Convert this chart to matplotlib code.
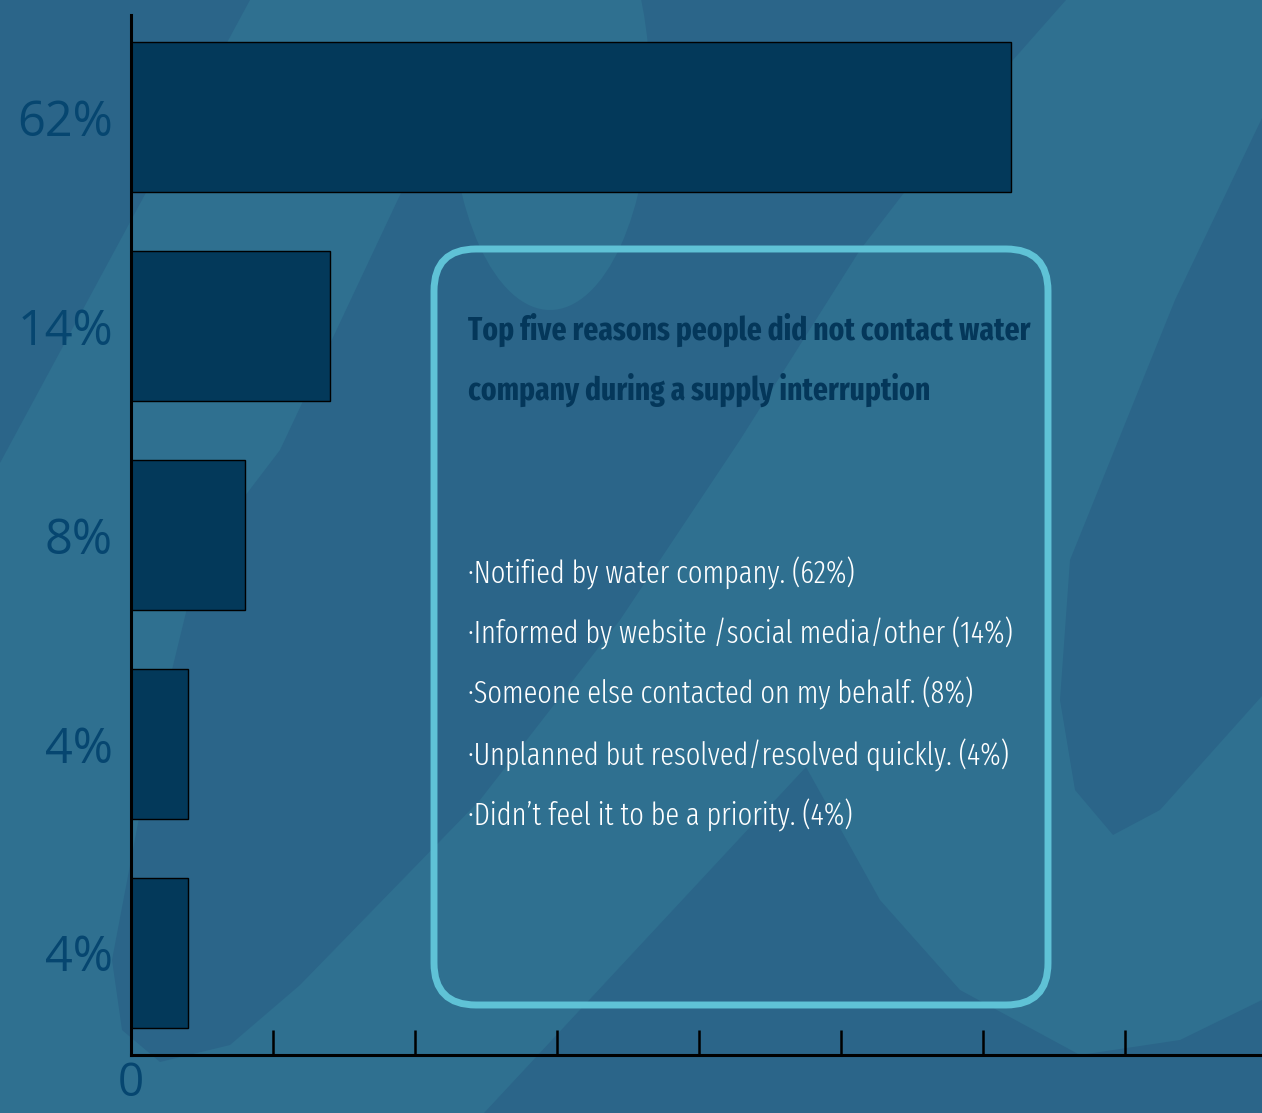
import matplotlib
matplotlib.use("Agg")
import matplotlib.pyplot as plt
from matplotlib import font_manager as fm
from matplotlib.patches import Polygon, FancyBboxPatch, Ellipse

# Data
values = [62, 14, 8, 4, 4]
bar_labels = [f"{v}%" for v in values]
title_lines = ["Top five reasons people did not contact water",
               "company during a supply interruption"]
reasons = ["Notified by water company.",
           "Informed by website /social media/other",
           "Someone else contacted on my behalf.",
           "Unplanned but resolved/resolved quickly.",
           "Didn\u2019t feel it to be a priority."]
x_ticks = [0, 10, 20, 30, 40, 50, 60, 70]

# Colours
BG_DARK = "#2b6589"
BG_LIGHT = "#2f7090"
BAR = "#03395a"
LABEL = "#064670"
BOX_EDGE = "#5fc2d6"
TITLE = "#04375a"

W, H = 1262, 1113


def pick_condensed(target_weight):
    """Find the narrowest installed sans font, closest to the given weight."""
    best, best_score = None, None
    for e in fm.fontManager.ttflist:
        if e.style != "normal":
            continue
        label = (e.name + " " + e.fname).lower()
        if e.stretch == "normal" and "condensed" not in label and "narrow" not in label:
            continue
        if "mono" in label or "serif" in label and "sans" not in label:
            continue
        w = e.weight
        if isinstance(w, str):
            w = fm.weight_dict.get(w, 400)
        score = abs(w - target_weight)
        if "extracondensed" in label.replace(" ", "") or "ultracondensed" in label.replace(" ", ""):
            score -= 1000
        elif "semicondensed" in label.replace(" ", ""):
            score += 500
        if best_score is None or score < best_score:
            best, best_score = e, score
    if best is None:
        return fm.FontProperties(family="Liberation Sans",
                                 weight="bold" if target_weight >= 600 else "normal")
    return fm.FontProperties(fname=best.fname)


title_font = pick_condensed(700)
body_font = pick_condensed(300)

fig = plt.figure(figsize=(W / 100, H / 100), dpi=100, facecolor=BG_DARK)

# Background layer in pixel coordinates
bg = fig.add_axes([0, 0, 1, 1], zorder=0)
bg.set_xlim(0, W)
bg.set_ylim(H, 0)
bg.axis("off")
bg.add_patch(Polygon([(0, 0), (W, 0), (W, H), (0, H)], closed=True,
                     facecolor=BG_LIGHT, edgecolor="none"))
dark_shapes = [
    [(0, 0), (250, 0), (0, 463)],
    [(505, 0), (1066, 0), (960, 120), (860, 250), (740, 440), (620, 620),
     (480, 800), (300, 985), (230, 1045), (160, 1062), (122, 1030),
     (112, 960), (150, 760), (200, 555), (280, 450), (400, 195)],
    [(1262, 118), (1175, 300), (1070, 560), (1060, 700), (1075, 790),
     (1113, 835), (1160, 810), (1262, 696)],
    [(484, 1113), (806, 767), (880, 900), (960, 990), (1080, 1055),
     (1180, 1040), (1262, 1000), (1262, 1113)],
]
for pts in dark_shapes:
    bg.add_patch(Polygon(pts, closed=True, facecolor=BG_DARK, edgecolor="none"))
bg.add_patch(Ellipse((550, 90), 200, 440, facecolor=BG_LIGHT, edgecolor="none"))

# Text box
bg.add_patch(FancyBboxPatch((434, 249), 614, 756,
                            boxstyle="round,pad=0,rounding_size=42",
                            facecolor="none", edgecolor=BOX_EDGE, linewidth=5))

# Bar chart
ax = fig.add_axes([131 / W, (H - 1055) / H, 1 - 131 / W, (1055 - 15) / H], zorder=1)
ax.patch.set_alpha(0)
pos = list(range(len(values)))
ax.barh(pos, values, height=0.718, color=BAR, edgecolor="black", linewidth=1)
ax.set_ylim(len(values) - 0.51, -0.49)
ax.set_xlim(0, (W - 131) / 14.2)
ax.set_yticks(pos)
ax.set_yticklabels(bar_labels)
ax.set_xticks(x_ticks)
ax.set_xticklabels(["0"] + [""] * (len(x_ticks) - 1))
for s in ["top", "right"]:
    ax.spines[s].set_visible(False)
for s in ["left", "bottom"]:
    ax.spines[s].set_linewidth(2.2)
    ax.spines[s].set_color("black")
ax.tick_params(axis="y", length=0, pad=13, labelsize=35, labelcolor=LABEL)
ax.tick_params(axis="x", direction="in", length=18, width=1.8, color="black",
               pad=4, labelsize=33, labelcolor=LABEL)
for lab in ax.get_xticklabels() + ax.get_yticklabels():
    lab.set_fontfamily("Open Sans")

# Title and bullet text inside the box, sized to the box widths
fig.canvas.draw()
renderer = fig.canvas.get_renderer()


def fit_text(lines, baselines, font, color, target_width, widest):
    texts = []
    for line, yb in zip(lines, baselines):
        t = bg.text(468, yb, line, fontproperties=font.copy(), color=color,
                    fontsize=30, ha="left", va="baseline")
        texts.append(t)
    w = texts[widest].get_window_extent(renderer).width
    size = 30 * target_width / w
    for t in texts:
        t.set_fontsize(size)
    return texts


fit_text(title_lines, [340, 400], title_font, TITLE, 562, 0)
bullets = [f"\u00b7{r} ({v}%)" for r, v in zip(reasons, values)]
fit_text(bullets, [583, 644, 704, 765, 825], body_font, "white", 542, 1)

fig.savefig("out.png", dpi=100, facecolor=BG_DARK)
